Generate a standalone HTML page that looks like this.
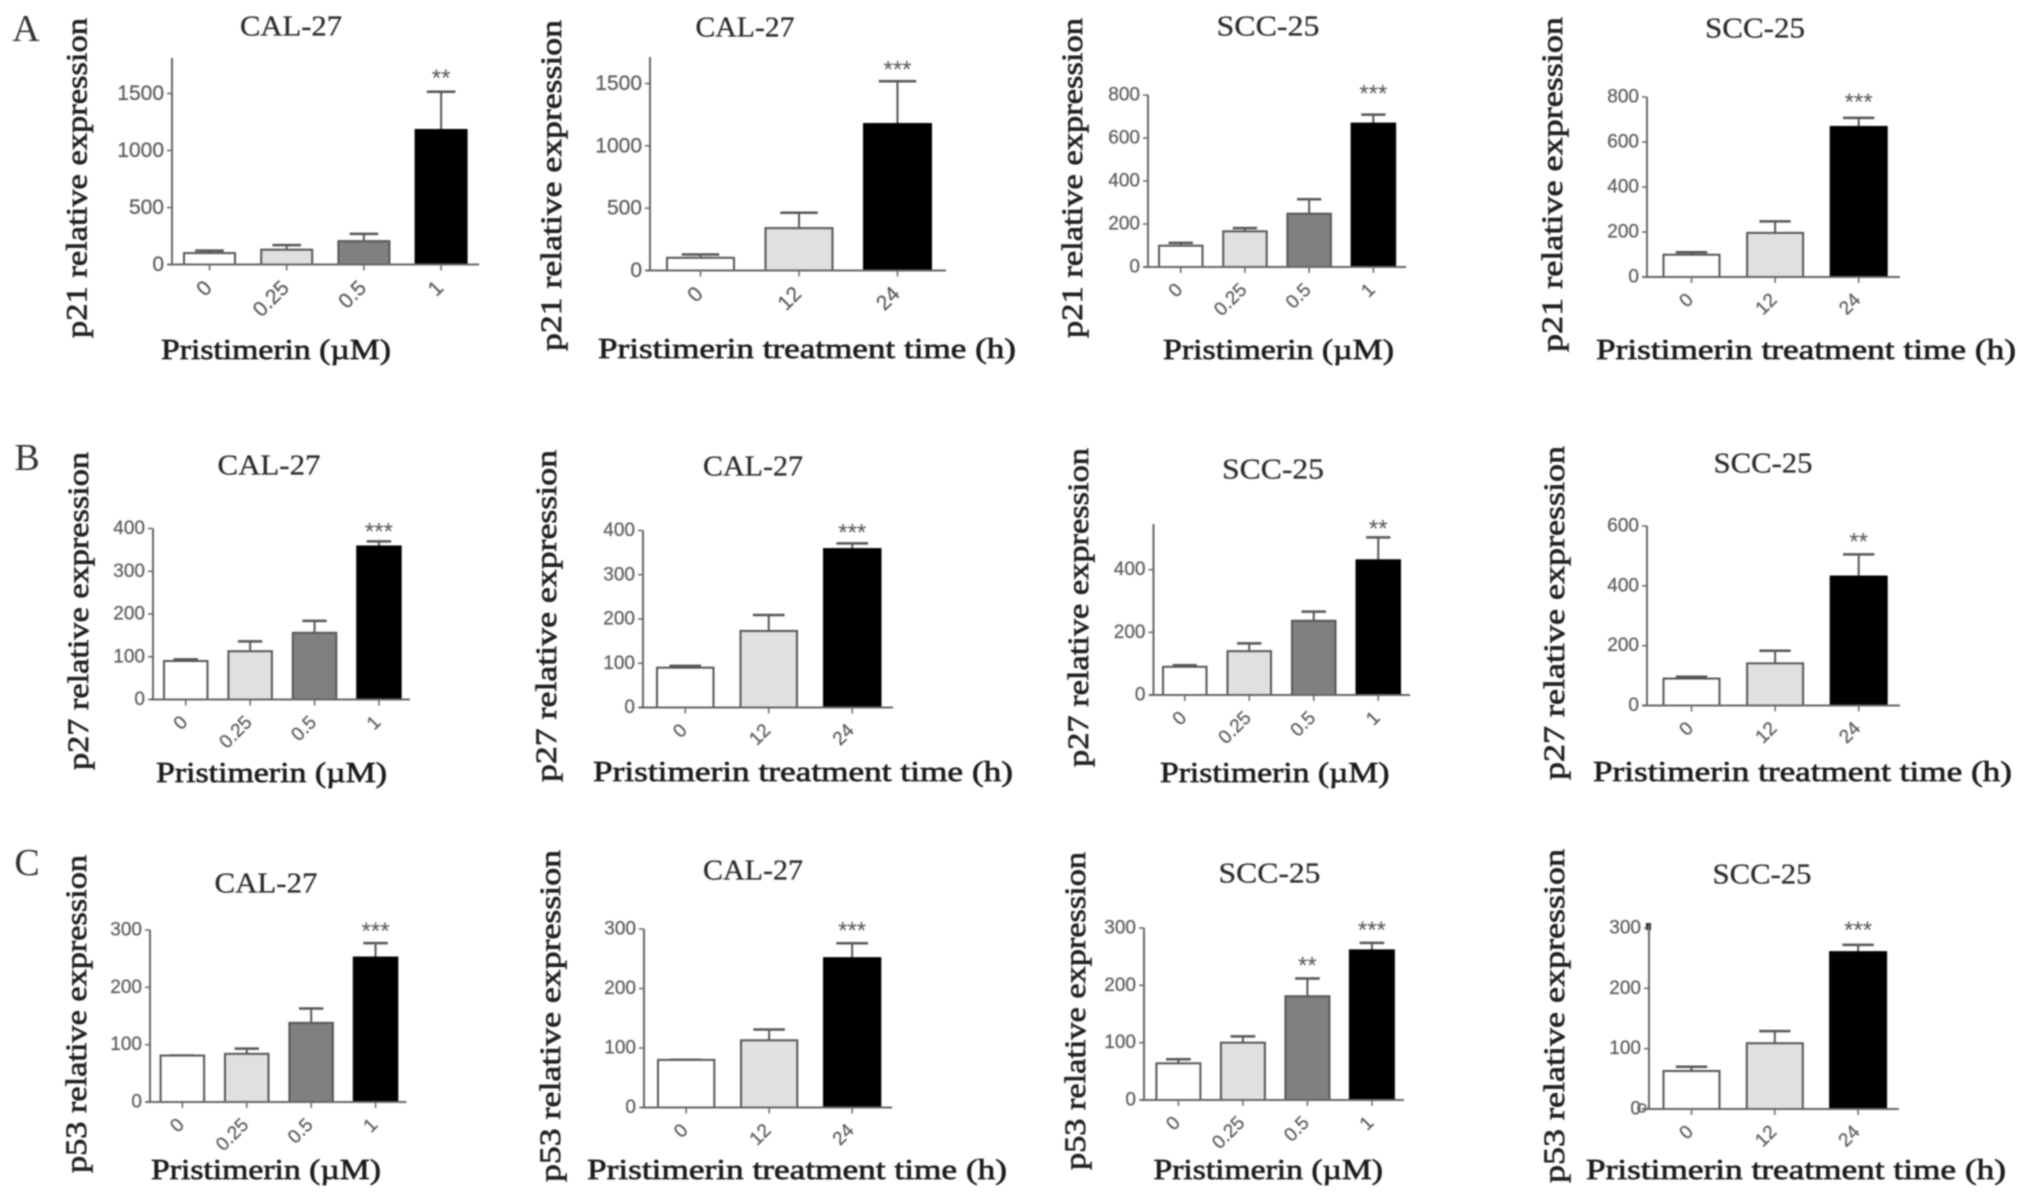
<!DOCTYPE html>
<html lang="en">
<head>
<meta charset="utf-8">
<title>Pristimerin p21, p27 and p53 relative expression</title>
<style>
html,body{margin:0;padding:0;background:#fff;width:2031px;height:1199px;overflow:hidden}
svg{display:block;filter:blur(0.7px)}
text{font-family:"Liberation Serif",serif;white-space:pre}
.tick{font-family:"Liberation Sans",sans-serif;fill:#5c5c5c;stroke:#5c5c5c;stroke-width:.25px}
.star{font-family:"Liberation Sans",sans-serif;fill:#555;font-size:24px}
.title{fill:#2a2a2a;font-size:28px;stroke:#2a2a2a;stroke-width:.25px}
.ylab{fill:#222;font-size:30px;stroke:#222;stroke-width:.7px}
.xlab{fill:#1c1c1c;font-size:28px;stroke:#1c1c1c;stroke-width:.65px}
.letter{fill:#333;font-size:38px}
</style>
</head>
<body>
<svg id="figure" xmlns="http://www.w3.org/2000/svg" width="2031" height="1199" viewBox="0 0 2031 1199">
  <text class="letter" x="26" y="41" text-anchor="middle">A</text>
  <text class="letter" x="27" y="470" text-anchor="middle">B</text>
  <text class="letter" x="27" y="875" text-anchor="middle">C</text>
  <rect x="1646" y="923" width="5" height="7" fill="#222"/>
  <circle cx="1642" cy="1108" r="4" fill="none" stroke="#777" stroke-width="2"/>
</svg>
<script>
// Shared categories
const doseCategories = ['0', '0.25', '0.5', '1'];
const timeCategories = ['0', '12', '24'];
const doseAxisTitle = 'Pristimerin (µM)';
const timeAxisTitle = 'Pristimerin treatment time (h)';

// Row A: p21
const p21Cal27DoseValues = [100, 130, 205, 1180];
const p21Cal27DoseUpper = [122, 170, 269, 1515];
const p21Cal27DoseStars = ['', '', '', '**'];
const p21Cal27DoseTicks = [0, 500, 1000, 1500];

const p21Cal27TimeValues = [102, 340, 1175];
const p21Cal27TimeUpper = [128, 463, 1518];
const p21Cal27TimeStars = ['', '', '***'];
const p21Cal27TimeTicks = [0, 500, 1000, 1500];

const p21Scc25DoseValues = [99, 166, 248, 667];
const p21Scc25DoseUpper = [112, 181, 315, 709];
const p21Scc25DoseStars = ['', '', '', '***'];
const p21Scc25DoseTicks = [0, 200, 400, 600, 800];

const p21Scc25TimeValues = [99, 196, 667];
const p21Scc25TimeUpper = [110, 247, 707];
const p21Scc25TimeStars = ['', '', '***'];
const p21Scc25TimeTicks = [0, 200, 400, 600, 800];

// Row B: p27
const p27Cal27DoseValues = [90, 113, 156, 358];
const p27Cal27DoseUpper = [94, 136, 184, 370];
const p27Cal27DoseStars = ['', '', '', '***'];
const p27Cal27DoseTicks = [0, 100, 200, 300, 400];

const p27Cal27TimeValues = [90, 173, 358];
const p27Cal27TimeUpper = [94, 209, 371];
const p27Cal27TimeStars = ['', '', '***'];
const p27Cal27TimeTicks = [0, 100, 200, 300, 400];

const p27Scc25DoseValues = [90, 140, 237, 430];
const p27Scc25DoseUpper = [95, 165, 266, 503];
const p27Scc25DoseStars = ['', '', '', '**'];
const p27Scc25DoseTicks = [0, 200, 400];

const p27Scc25TimeValues = [90, 141, 431];
const p27Scc25TimeUpper = [96, 183, 505];
const p27Scc25TimeStars = ['', '', '**'];
const p27Scc25TimeTicks = [0, 200, 400, 600];

// Row C: p53
const p53Cal27DoseValues = [81, 84, 138, 252];
const p53Cal27DoseUpper = [81, 93, 163, 277];
const p53Cal27DoseStars = ['', '', '', '***'];
const p53Cal27DoseTicks = [0, 100, 200, 300];

const p53Cal27TimeValues = [80, 113, 251];
const p53Cal27TimeUpper = [80, 131, 276];
const p53Cal27TimeStars = ['', '', '***'];
const p53Cal27TimeTicks = [0, 100, 200, 300];

const p53Scc25DoseValues = [64, 100, 181, 261];
const p53Scc25DoseUpper = [71, 111, 212, 274];
const p53Scc25DoseStars = ['', '', '**', '***'];
const p53Scc25DoseTicks = [0, 100, 200, 300];

const p53Scc25TimeValues = [63, 109, 260];
const p53Scc25TimeUpper = [70, 129, 272];
const p53Scc25TimeStars = ['', '', '***'];
const p53Scc25TimeTicks = [0, 100, 200, 300];

const barFills = {'0': '#ffffff', '0.25': '#e0e0e0', '12': '#e0e0e0', '0.5': '#808080', '1': '#000000', '24': '#000000'};

const panels = [
  {id:'p21-cal27-dose', protein:'p21', cell:'CAL-27', cats:doseCategories, vals:p21Cal27DoseValues, upper:p21Cal27DoseUpper, stars:p21Cal27DoseStars, ticks:p21Cal27DoseTicks,
   frame:{axisX:172, base:264.5, tickTop:93.5, top:58, left:168, right:479, bar0:184, barW:51, step:77.2, font:21, starGap:17},
   titleBox:{x:291, y:26, w:102}, yBox:{x:79.5, top:18, bottom:338}, xBox:{l:161, r:391, y:350}},
  {id:'p21-cal27-time', protein:'p21', cell:'CAL-27', cats:timeCategories, vals:p21Cal27TimeValues, upper:p21Cal27TimeUpper, stars:p21Cal27TimeStars, ticks:p21Cal27TimeTicks,
   frame:{axisX:650, base:270.5, tickTop:83.5, top:57, left:646, right:946, bar0:667, barW:67, step:98.5, font:21, starGap:15},
   titleBox:{x:745, y:27, w:99}, yBox:{x:554, top:20, bottom:351}, xBox:{l:598, r:1016, y:349}},
  {id:'p21-scc25-dose', protein:'p21', cell:'SCC-25', cats:doseCategories, vals:p21Scc25DoseValues, upper:p21Scc25DoseUpper, stars:p21Scc25DoseStars, ticks:p21Scc25DoseTicks,
   frame:{axisX:1148, base:267, tickTop:95, top:95, left:1144, right:1406, bar0:1159, barW:43.5, step:64.2, font:19, starGap:24},
   titleBox:{x:1268, y:26, w:103}, yBox:{x:1075, top:18, bottom:338}, xBox:{l:1163, r:1394, y:350}},
  {id:'p21-scc25-time', protein:'p21', cell:'SCC-25', cats:timeCategories, vals:p21Scc25TimeValues, upper:p21Scc25TimeUpper, stars:p21Scc25TimeStars, ticks:p21Scc25TimeTicks,
   frame:{axisX:1647, base:277, tickTop:97, top:97, left:1642, right:1900, bar0:1663.5, barW:56, step:83.6, font:19, starGap:19},
   titleBox:{x:1755, y:28, w:100}, yBox:{x:1555, top:17, bottom:352}, xBox:{l:1596, r:2016, y:350}},

  {id:'p27-cal27-dose', protein:'p27', cell:'CAL-27', cats:doseCategories, vals:p27Cal27DoseValues, upper:p27Cal27DoseUpper, stars:p27Cal27DoseStars, ticks:p27Cal27DoseTicks,
   frame:{axisX:153, base:699.5, tickTop:528.5, top:528.5, left:150, right:410, bar0:164, barW:43.5, step:64.4, font:19, starGap:13},
   titleBox:{x:269, y:465, w:103}, yBox:{x:81, top:452, bottom:770}, xBox:{l:156, r:387, y:773}},
  {id:'p27-cal27-time', protein:'p27', cell:'CAL-27', cats:timeCategories, vals:p27Cal27TimeValues, upper:p27Cal27TimeUpper, stars:p27Cal27TimeStars, ticks:p27Cal27TimeTicks,
   frame:{axisX:643, base:707.5, tickTop:530.5, top:530.5, left:639, right:893, bar0:657, barW:56.5, step:83.5, font:19, starGap:14},
   titleBox:{x:753, y:466, w:100}, yBox:{x:549, top:450, bottom:782}, xBox:{l:593, r:1013, y:772}},
  {id:'p27-scc25-dose', protein:'p27', cell:'SCC-25', cats:doseCategories, vals:p27Scc25DoseValues, upper:p27Scc25DoseUpper, stars:p27Scc25DoseStars, ticks:p27Scc25DoseTicks,
   frame:{axisX:1153.5, base:695, tickTop:569.7, top:524, left:1149, right:1410, bar0:1163, barW:43.5, step:64.5, font:19, starGap:12},
   titleBox:{x:1273, y:469, w:102}, yBox:{x:1081, top:448, bottom:767}, xBox:{l:1160, r:1389.5, y:773}},
  {id:'p27-scc25-time', protein:'p27', cell:'SCC-25', cats:timeCategories, vals:p27Scc25TimeValues, upper:p27Scc25TimeUpper, stars:p27Scc25TimeStars, ticks:p27Scc25TimeTicks,
   frame:{axisX:1647, base:705.5, tickTop:526, top:526, left:1642, right:1900, bar0:1663.5, barW:56, step:83.6, font:19, starGap:16},
   titleBox:{x:1763, y:463, w:99}, yBox:{x:1557, top:446, bottom:780}, xBox:{l:1593, r:2012, y:772}},

  {id:'p53-cal27-dose', protein:'p53', cell:'CAL-27', cats:doseCategories, vals:p53Cal27DoseValues, upper:p53Cal27DoseUpper, stars:p53Cal27DoseStars, ticks:p53Cal27DoseTicks,
   frame:{axisX:150, base:1102, tickTop:930, top:930, left:146, right:406.5, bar0:160.6, barW:43.5, step:64.4, font:19, starGap:15},
   titleBox:{x:266, y:883, w:103}, yBox:{x:79, top:855, bottom:1173}, xBox:{l:151, r:381, y:1170}},
  {id:'p53-cal27-time', protein:'p53', cell:'CAL-27', cats:timeCategories, vals:p53Cal27TimeValues, upper:p53Cal27TimeUpper, stars:p53Cal27TimeStars, ticks:p53Cal27TimeTicks,
   frame:{axisX:644, base:1107.5, tickTop:929, top:929, left:641, right:892, bar0:658, barW:56.3, step:83, font:19, starGap:16},
   titleBox:{x:753, y:870, w:100}, yBox:{x:553, top:850, bottom:1182}, xBox:{l:587, r:1007, y:1170}},
  {id:'p53-scc25-dose', protein:'p53', cell:'SCC-25', cats:doseCategories, vals:p53Scc25DoseValues, upper:p53Scc25DoseUpper, stars:p53Scc25DoseStars, ticks:p53Scc25DoseTicks,
   frame:{axisX:1144, base:1100, tickTop:928, top:928, left:1140.6, right:1404, bar0:1156.4, barW:44, step:64.5, font:19, starGap:16},
   titleBox:{x:1269.5, y:873, w:102}, yBox:{x:1078, top:852, bottom:1170}, xBox:{l:1153.5, r:1383, y:1170}},
  {id:'p53-scc25-time', protein:'p53', cell:'SCC-25', cats:timeCategories, vals:p53Scc25TimeValues, upper:p53Scc25TimeUpper, stars:p53Scc25TimeStars, ticks:p53Scc25TimeTicks,
   frame:{axisX:1649, base:1109, tickTop:928, top:924, left:1642, right:1899, bar0:1663.5, barW:56, step:83.3, font:19, starGap:18},
   titleBox:{x:1762, y:874, w:99}, yBox:{x:1557, top:849, bottom:1183}, xBox:{l:1586, r:2006, y:1170}}
];

const svgNS = 'http://www.w3.org/2000/svg';
const AXIS_COLOR = '#666';
const BAR_STROKE = '#555';

function make(parent, tag, attrs, content) {
  const node = document.createElementNS(svgNS, tag);
  for (const key in attrs) node.setAttribute(key, attrs[key]);
  if (content !== undefined) node.textContent = content;
  parent.appendChild(node);
  return node;
}

function drawPanel(root, p) {
  const f = p.frame;
  const maxTick = p.ticks[p.ticks.length - 1];
  const yScale = v => f.base - (v / maxTick) * (f.base - f.tickTop);
  const xLeft = i => f.bar0 + i * f.step;
  const xCenter = i => xLeft(i) + f.barW / 2;

  const group = make(root, 'g', {});
  
  

  const title = make(group, 'text', {class:'title', x:p.titleBox.x, y:p.titleBox.y + 9.5, 'text-anchor':'middle', textLength:p.titleBox.w, lengthAdjust:'spacingAndGlyphs'}, p.cell);
  
  

  const yMid = (p.yBox.top + p.yBox.bottom) / 2;
  const yTitle = make(group, 'text', {class:'ylab', x:0, y:0, 'text-anchor':'middle', transform:'translate(' + (p.yBox.x + 7) + ',' + yMid + ') rotate(-90)', textLength:p.yBox.bottom - p.yBox.top, lengthAdjust:'spacingAndGlyphs'}, p.protein + ' relative expression');
  
  

  const xTitleText = p.cats === doseCategories ? doseAxisTitle : timeAxisTitle;
  const xTitle = make(group, 'text', {class:'xlab', x:(p.xBox.l + p.xBox.r) / 2, y:p.xBox.y + 9, 'text-anchor':'middle', textLength:p.xBox.r - p.xBox.l, lengthAdjust:'spacingAndGlyphs'}, xTitleText);
  
  

  p.vals.forEach((v, i) => {
    const errLine = make(group, 'line', {x1:xCenter(i), x2:xCenter(i), y1:yScale(v), y2:yScale(p.upper[i]), stroke:BAR_STROKE, 'stroke-width':2});
    
    
    const capHalf = f.barW * 0.28;
    const errCap = make(group, 'line', {x1:xCenter(i) - capHalf, x2:xCenter(i) + capHalf, y1:yScale(p.upper[i]), y2:yScale(p.upper[i]), stroke:BAR_STROKE, 'stroke-width':2.5});
    
    

    const bar = make(group, 'rect', {x:xLeft(i), y:yScale(v), width:f.barW, height:f.base - yScale(v), fill:barFills[p.cats[i]], stroke:p.cats[i] === '1' || p.cats[i] === '24' ? '#000' : BAR_STROKE, 'stroke-width':2});
    
    

    if (p.stars[i]) {
      const star = make(group, 'text', {class:'star', x:xCenter(i), y:yScale(p.upper[i]) - f.starGap + 11, 'text-anchor':'middle'}, p.stars[i]);
      
      
    }

    const xTick = make(group, 'line', {x1:xCenter(i), x2:xCenter(i), y1:f.base, y2:f.base + 6, stroke:AXIS_COLOR, 'stroke-width':1.5});
    
    

    const lx = xCenter(i) - 1;
    const ly = f.base + 20;
    const xLabel = make(group, 'text', {class:'tick', 'font-size':f.font, x:lx, y:ly, 'text-anchor':'end', 'dominant-baseline':'central', transform:'rotate(-45 ' + lx + ' ' + ly + ')'}, p.cats[i]);
    
    
  });

  const yAxis = make(group, 'line', {x1:f.axisX, x2:f.axisX, y1:f.top, y2:f.base, stroke:AXIS_COLOR, 'stroke-width':2});
  
  

  const xAxis = make(group, 'line', {x1:f.left, x2:f.right, y1:f.base, y2:f.base, stroke:AXIS_COLOR, 'stroke-width':2});
  
  

  p.ticks.forEach(t => {
    const yTick = make(group, 'line', {x1:f.axisX - 5, x2:f.axisX, y1:yScale(t), y2:yScale(t), stroke:AXIS_COLOR, 'stroke-width':1.5});
    
    
    const yLabel = make(group, 'text', {class:'tick', 'font-size':f.font, x:f.axisX - 8, y:yScale(t), 'text-anchor':'end', 'dominant-baseline':'central'}, String(t));
    
    
  });
}

const figure = document.getElementById('figure');
panels.forEach(p => drawPanel(figure, p));
</script>
</body>
</html>
